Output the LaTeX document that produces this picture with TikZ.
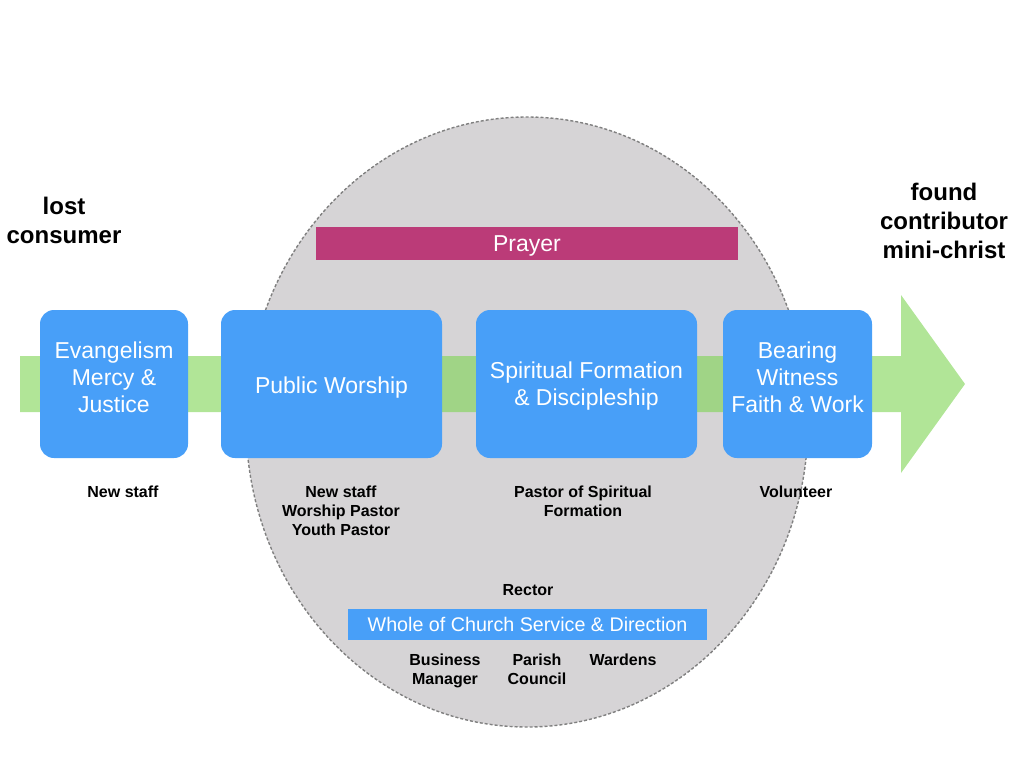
\documentclass[tikz,border=0pt]{standalone}
\usepackage{fontspec}
\setmainfont{Liberation Sans}
\usetikzlibrary{positioning}

\definecolor{stageblue}{HTML}{489FF8}
\definecolor{prayerpink}{HTML}{BB3B78}
\definecolor{circlegrey}{HTML}{D6D4D6}
\definecolor{pathgreen}{RGB}{125,212,82}

\tikzset{
  stage/.style={fill=stageblue, rounded corners=14pt, minimum height=148pt, inner sep=0pt},
  stagetext/.style={text=white, align=center, inner sep=0pt, font=\fontsize{23}{27}\selectfont},
  band/.style={fill=#1, inner sep=0pt, text=white, text depth=0pt},
  role/.style={anchor=north, align=center, inner sep=0pt, font=\fontsize{16}{19}\selectfont\bfseries},
  goal/.style={anchor=north, align=center, inner sep=0pt, font=\fontsize{24}{29}\selectfont\bfseries},
}

\begin{document}
\begin{tikzpicture}[x=1pt, y=-1pt]
  \useasboundingbox (0,0) rectangle (1024,768);

  % the grey circle
  \draw[fill=circlegrey, draw=black!50, line width=1.4pt, dash pattern=on 3pt off 2pt]
    (527,422) ellipse [x radius=281, y radius=305];

  % the green arrow
  \fill[pathgreen, fill opacity=0.6] (20,356) -- (901,356) -- (901,295) -- (965,384)
    -- (901,473) -- (901,412) -- (20,412) -- cycle;

  % stages
  \node[stage, minimum width=148pt] (evang) at (114,384) {};
  \node[stage, minimum width=221pt] (worship) at (331.5,384) {};
  \node[stage, minimum width=221pt] (formation) at (586.5,384) {};
  \node[stage, minimum width=149pt] (witness) at (797.5,384) {};

  \node[stagetext] (evangtext) at ([yshift=7pt]evang.center) {Evangelism\\Mercy \&\\Justice};
  \node[stagetext, text depth=0pt] (worshiptext) at ([yshift=-1pt]worship.center) {Public Worship};
  \node[stagetext] (formationtext) at ([yshift=-2.5pt]formation.center) {Spiritual Formation\\\& Discipleship};
  \node[stagetext] (witnesstext) at ([yshift=7pt]witness.center) {Bearing\\Witness\\Faith \& Work};

  % bands
  \node[band=prayerpink, minimum width=422pt, minimum height=33pt,
    font=\fontsize{23}{26}\selectfont] (prayer) at (527,243.5) {Prayer};
  \node[band=stageblue, minimum width=359pt, minimum height=31pt,
    font=\fontsize{19.7}{24}\selectfont] (service) at (527.5,624.5) {Whole of Church Service \& Direction};

  % people
  \node[role] (evangstaff) at (123,486) {New staff};
  \node[role] (worshipstaff) at (341,486) {New staff\\Worship Pastor\\Youth Pastor};
  \node[role] (formationstaff) at (583,486) {Pastor of Spiritual\\Formation};
  \node[role] (witnessstaff) at (796,486) {Volunteer};
  \node[role, anchor=center] (rector) at (528,590) {Rector};
  \node[role] (manager) at (445,654) {Business\\Manager};
  \node[role] (council) at (537,654) {Parish\\Council};
  \node[role] (wardens) at (623,654) {Wardens};

  % from and to
  \node[goal] (lost) at (64,197) {lost\\consumer};
  \node[goal] (found) at (944,183) {found\\contributor\\mini-christ};
\end{tikzpicture}
\end{document}
